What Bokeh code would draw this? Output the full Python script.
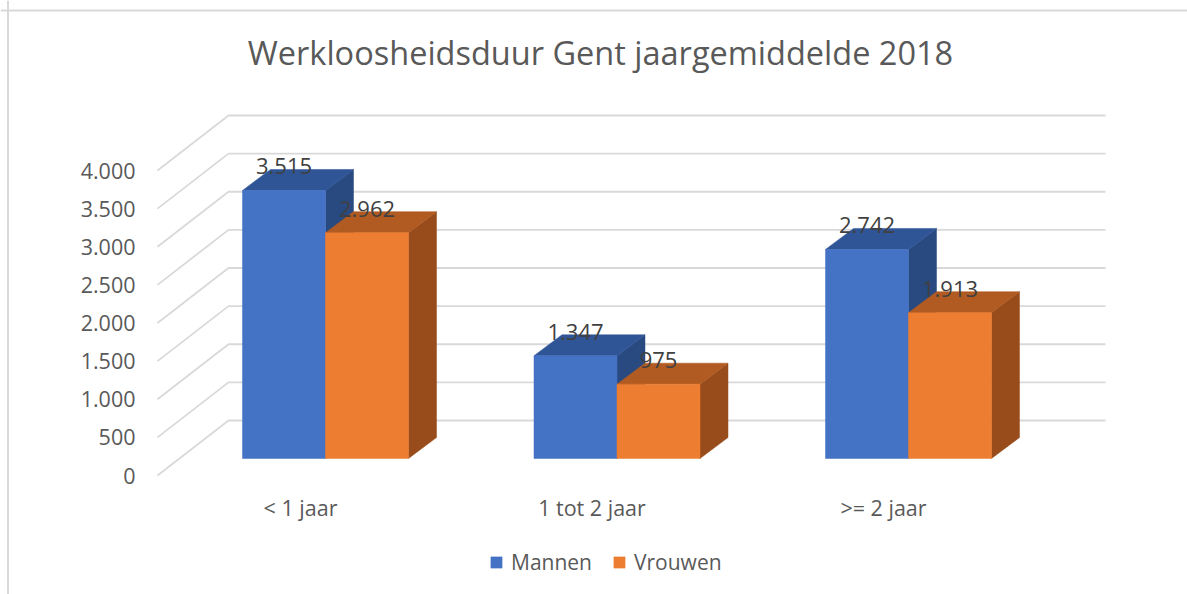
from bokeh.plotting import figure
from bokeh.models import Range1d, Legend, LegendItem, Span
from bokeh.embed import file_html
from bokeh.resources import INLINE
from bokeh.core.properties import value

# ---------------- data ----------------
title_text = "Werkloosheidsduur Gent jaargemiddelde 2018"
categories = ["< 1 jaar", "1 tot 2 jaar", ">= 2 jaar"]
series_names = ["Mannen", "Vrouwen"]
mannen = [3515, 1347, 2742]
vrouwen = [2962, 975, 1913]
y_ticks = [0, 500, 1000, 1500, 2000, 2500, 3000, 3500, 4000]


def fmt(v):
    return f"{v:,}".replace(",", ".")


y_tick_labels = [fmt(v) for v in y_ticks]

# ---------------- geometry / style ----------------
W, H = 1187, 594
PX_X = 291.5      # px per category unit
PX_Y = 0.07625    # px per value unit
ORIGIN_X = 325    # px from left of first category centre (bar front)
ORIGIN_Y = 136    # px from bottom of value 0 (bar front)


def ux(px):
    return px / PX_X


def uy(px):
    return px / PX_Y


FONT = "Open Sans"
TXT = "#595959"
GRID = "#D9D9D9"
BLUE = ("#4472C4", "#2F5597", "#284A80")
ORANGE = ("#ED7D31", "#B15B22", "#984C1B")

BW = ux(83)                      # bar width
BDX, BDY = ux(28), uy(21)        # bar depth
FDX, FDY = ux(-22), uy(-17)      # front plane offset rel. to bar front
KDX, KDY = ux(49), uy(38)        # back wall offset rel. to bar front
WALL_LEFT = ux(-168)             # front-left edge of side wall
WALL_RIGHT = ux(780) - KDX       # back wall right end (expressed at front)

p = figure(width=W, height=H, output_backend="svg", toolbar_location=None,
           x_range=Range1d(-ORIGIN_X / PX_X, (W - ORIGIN_X) / PX_X),
           y_range=Range1d(-ORIGIN_Y / PX_Y, (H - ORIGIN_Y) / PX_Y),
           min_border=0, outline_line_color=None)
p.xaxis.visible = False
p.yaxis.visible = False
p.grid.visible = False
p.background_fill_color = "white"
p.border_fill_color = "white"

# chart border (left / top)
p.add_layout(Span(location=p.x_range.start + ux(7.5), dimension="height",
                  line_color=GRID, line_width=2))
p.add_layout(Span(location=p.y_range.end - uy(10), dimension="width",
                  line_color=GRID, line_width=2))

# ---------------- gridlines (side wall + back wall) ----------------
gx, gy = [], []
for v in y_ticks:
    fx = WALL_LEFT
    bx = WALL_LEFT + (KDX - FDX)
    gx.append([fx, bx, WALL_RIGHT + KDX])
    gy.append([v + FDY, v + KDY, v + KDY])
p.multi_line(gx, gy, line_color=GRID, line_width=1.8)

# tick labels
p.text(x=[WALL_LEFT + ux(-22)] * len(y_ticks), y=[v + FDY for v in y_ticks],
       text=y_tick_labels, text_align="right", text_baseline="middle",
       text_font=value(FONT), text_font_size="21.5px", text_color=TXT)

# category labels
xs_cat = list(range(len(categories)))
p.text(x=[i + ux(-25) for i in xs_cat], y=[uy(-49)] * len(categories),
       text=categories, text_align="center", text_baseline="middle",
       text_font=value(FONT), text_font_size="21.5px", text_color=TXT)

# ---------------- bars ----------------
front_renderers = []
for s, (vals, cols) in enumerate([(mannen, BLUE), (vrouwen, ORANGE)]):
    x0s = [i + (s - 1) * BW for i in xs_cat]
    x1s = [x + BW for x in x0s]
    side_x = [[x1, x1 + BDX, x1 + BDX, x1] for x1 in x1s]
    side_y = [[0, BDY, v + BDY, v] for v in vals]
    top_x = [[x0, x1, x1 + BDX, x0 + BDX] for x0, x1 in zip(x0s, x1s)]
    top_y = [[v, v, v + BDY, v + BDY] for v in vals]
    p.patches(side_x, side_y, fill_color=cols[2], line_color=cols[2], line_width=0.5)
    p.patches(top_x, top_y, fill_color=cols[1], line_color=cols[1], line_width=0.5)
    r = p.quad(left=x0s, right=x1s, bottom=[0] * len(vals), top=vals,
               fill_color=cols[0], line_color=cols[0], line_width=0.5)
    front_renderers.append(r)

# data labels
for s, vals in enumerate([mannen, vrouwen]):
    p.text(x=[i + (s - 0.5) * BW for i in xs_cat], y=[v + uy(24) for v in vals],
           text=[fmt(v) for v in vals], text_align="center", text_baseline="middle",
           text_font=value(FONT), text_font_size="22px", text_color="#404040")

# title
p.text(x=[ux(275)], y=[uy(406)], text=[title_text], text_align="center",
       text_baseline="middle", text_font=value(FONT), text_font_size="32.5px",
       text_color=TXT)

# legend
legend = Legend(items=[LegendItem(label=n, renderers=[r])
                       for n, r in zip(series_names, front_renderers)],
                orientation="horizontal", location=(489, 18),
                padding=0, margin=0, spacing=12, label_standoff=8,
                glyph_width=14, glyph_height=14, label_height=20, label_width=89,
                label_text_font=FONT, label_text_font_size="21px",
                label_text_color=TXT, border_line_alpha=0,
                background_fill_alpha=0)
p.add_layout(legend, "center")

open("out.html", "w").write(file_html(p, INLINE))
